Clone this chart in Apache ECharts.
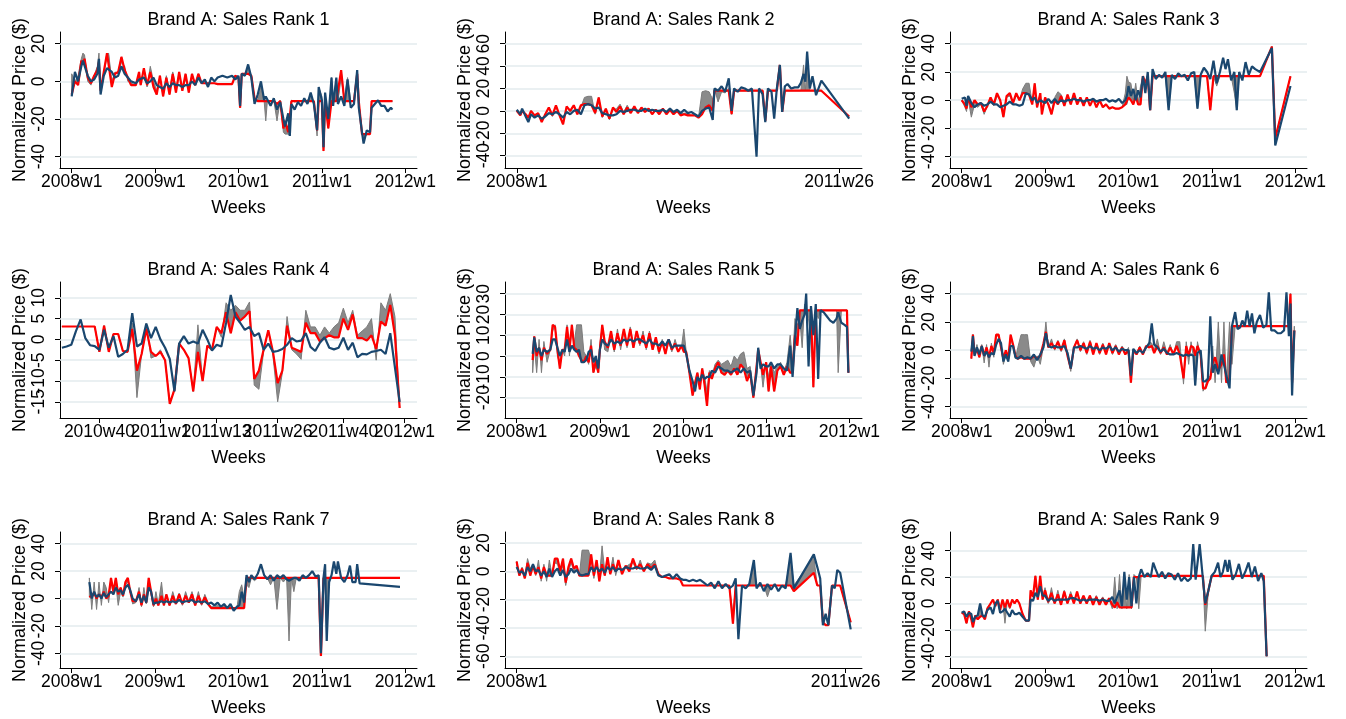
<!DOCTYPE html>
<html><head><meta charset="utf-8">
<script src="https://cdn.jsdelivr.net/npm/echarts@6/dist/echarts.min.js"></script>
<style>html,body{margin:0;padding:0;background:#fff}#c{width:1346px;height:719px}</style>
</head><body><div id="c"></div>
<script>
// ---------- tick labels ----------
const yearTicks = [0, 52, 104, 156, 208];
const yearLabels = ['2008w1', '2009w1', '2010w1', '2011w1', '2012w1'];
const shortTicks = [0, 181];
const shortLabels = ['2008w1', '2011w26'];
const rank4Ticks = [143, 156, 168, 181, 195, 208];
const rank4Labels = ['2010w40', '2011w1', '2011w13', '2011w26', '2011w40', '2012w1'];

const rank1YTicks = [-40, -20, 0, 20];
const rank2YTicks = [-40, -20, 0, 20, 40, 60];
const rank3YTicks = [-40, -20, 0, 20, 40];
const rank4YTicks = [-15, -10, -5, 0, 5, 10];
const rank5YTicks = [-20, -10, 0, 10, 20, 30];
const rank6YTicks = [-40, -20, 0, 20, 40];
const rank7YTicks = [-40, -20, 0, 20, 40];
const rank8YTicks = [-60, -40, -20, 0, 20];
const rank9YTicks = [-40, -20, 0, 20, 40];

// ---------- data (weeks counted from 2008w1, 52 per year) ----------
const rank1Weeks = [0,2,4,6,7,8,10,12,14,16, 17,18,20,22,23,25,27,29,31,33, 35,37,40,42,43,45,47,49,51,53, 55,57,59,61,63,65,67,69,71,73, 75,77,79,81,83,85,87,89,91,94, 97,100,102,104,105,106,108,110,112,114, 116,118,120,121,122,124,126,128,130,132, 133,135,136,137,139,141,143,145,147,149, 151,153,154,156,157,158,160,162,163,165, 166,168,170,172,174,176,178,179,181,182, 184,186,187,189,191,193,195,197,199,200];
const rank1Red = [-7,0,-2,11,9,12,2,-1,3,6, 10,-5,5,15,14,-3,4,5,13,6, 2,-2,-2,5,-2,7,-2,5,-3,-7, 3,-8,2,-7,4,-6,5,-5,4,-6, 4,-2,4,-1,-1,-1,-1,-1,-1.5,-1.5, -1.5,-1.5,3,2,-14,4,4,4,3,-9, -10.5,-10.5,-10.5,-10.5,-10.5,-10.5,-10.5,-12,-10.5,-25, -21,-27,-26,-10.5,-10.5,-10.5,-10.5,-10.5,-10.5,-10.5, -10.5,-26,-10.5,-10.5,-37,-10.5,-25,-10.5,-10.5,-10.5, -10.5,6,-10.5,-10.5,-10.5,-10.5,4,-10.5,-28,-28, -28,-28,-10.5,-10.5,-10.5,-10.5,-10.5,-10.5,-10.5,-10.5];
const rank1Blue = [-8,5,0,8,11,10,3,0,1,4, 12,-7,3,7,7,5,2,3,8,4, 2,0,-1,1,0,2,-1,0,2,-2, -3,-4,-1,-3,-1,-2,-2,-3,-2,-2, 0,-2,2,-1,1,-3,2,0,2,3, 2,3,1,3,-13,4,3,9,2,-12, -7,0,-10,-8,-9,-13,-9,-15,-11,-20, -24,-17,-29,-12,-15,-11,-13,-9,-12,-6, -12,-26,-3,-10,-35,-6,-20,2,-13,2, -12,-8,-13,1,-14,-12,6,-14,-27,-33, -26,-27,-14,-12,-10,-13,-13,-16,-14,-15];
const rank1Gray = [4,0,3,12,15,14,0,-2,3,8, 15,-6,4,13,15,0,5,4,10,8, 0,-1,-2,4,-1,6,-3,8,0,-5, 2,-7,3,-5,5,-3,3,-4,1,-3, 3,-1,4,-1,-1,-2,-1,-1,-1.5,-1.5, -1.5,-1.5,3,2,-14,4,4,8,3,-10, -10.5,-3,-10.5,-21,-10.5,-10.5,-10,-21,-10,-27, -28,-28,-29,-10,-11,-10.5,-10.5,-10.5,-10,-8, -10.5,-29,-3,-8,-36,-10,-24,2,-10.5,1, -10.5,2,-10.5,2,-10.5,-10.5,5,-10.5,-28,-31, -28,-28,-10.5,-10.5,-10.5,-10.5,-10.5,-10.5,-10.5,-10.5];

const rank2Weeks = [0,2,3,5,6.5,8,10,12,14,16, 18,20,22,24,26,28,30,32,34,36, 38,40,42,44,46,48,50,52,54,56, 58,60,62,64,66,68,70,72,74,76, 78,80,82,84,86,88,90,92,94,96, 98,100,102,104,106,108,110,111,113,115, 117,119,120.6,122,124,126,128,130,132,134.6, 136,138,139.5,141,143,144.5,146,147.7,149,150.5, 152,154,156,158,159.5,161,162,163,164.5,166, 168,171,186.6];
const rank2Red = [0,-4,0,-3,-6,0,-4,-2,-10,-3, 3,-4,5,-4,-12,4,0,5,-3,5, 6,6,5,-2,12,-5,2,-7,3,-1, 4,-3,3,-2,4,-2,3,-1,2,-3, 1,-3,2,-3,1,-3,0,-4,-3,-4, -4,-4,-6,-3,3,5,0,18,18,18, 18,18,-3,18,18,18,18,18,18,18, 18,18,-9,18,18,18,18,41,-1,18, 18,18,18,18,18,18,18,18,18,18, 18,18,-5];
const rank2Blue = [1,-3,2,-5,-10,-3,-6,-4,-7,-5, -2,-3,-1,-3,-6,-1,-3,0,1,-3, 5,6,5,2,3,-2,-3,-4,-4,-3, 0,-1,0,1,1,0,0,2,0,1, 0,0,1,-1,2,-1,1,-2,1,-2, -1,-3,-5,0,2,3,-8,20,18,22, 17,29,0,20,17,21,20,18,20,-41, 20,15,-10,20,17,-7,20,41,-1,22, 24,20,21,21,25,33,26,53,20,31, 14,27,-7];
const rank2Gray = [0,-4,0,-4,-7,0,-4,-3,-9,-3, 2,-5,4,-4,-10,3,-1,4,-2,3, 12,13,13,-3,8,-6,0,-8,1,2, 6,-1,5,-1,2,-1,2,-1,2,-2, 1,-2,1,-2,0,-2,1,-3,-2,-3, -4,-4,-6,17,18,17,10,20,8,17, 16,20,-3,18,18,18,18,18,18,18, 18,18,-9,18,18,18,18,41,-1,18, 18,18,18,18,18,41,18,40,18,18, 18,18,-5];

const rank3Weeks = [0,2,3,4,6,8,10,12,14,16, 18,20,22,24,26,28,30,32,34,36, 38,40,42,44,45.5,47,49,50,52,54, 56,58,60,62,64,66,68,70,72,74, 76,78,80,82,84,86,88,90,92,94, 96,98,100,102,103,104,105.5,107,108.5,110, 111.5,113,114.5,116,117.5,119,121,123,125,127, 129,131,133,135,137,139,141,143,145,147, 149,151,153,155,157,159,161,163,164.5,166, 168,170,171.5,173,175,177,179,181,183,186, 193.4,195.5,205];
const rank3Red = [0,-3,-6,2,-5,0,-3,-2,-8,-4, 2,-3,5,0,-12,3,5,-2,5,0, 5,5,4,-3,12,-5,5,-10,2,-3, -10,0,-3,3,-4,4,-3,5,-3,2, -4,2,-4,1,-5,0,-5,-3,-6,-5, -6,-6,-5,-3,-3,2,0,-3,3,-3, -3,17,12,17,-7,17,17,17,17,17, 17,17,17,17,17,17,17,17,17,17, 17,17,17,-7,17,17,17,17,17,17, 17,17,17,17,17,17,17,17,17,17, 38,-27,17];
const rank3Blue = [1,2,-4,3,-2,-5,-3,-2,-4,-3, -1,-3,-3,-5,-4,-3,-1,-3,-3,-4, -3,5,4,0,2,-2,0,-1,-2,1, -2,1,-2,0,-1,0,0,1,0,0, -1,0,0,1,-1,0,0,1,-1,0, -1,1,-2,0,3,10,3,8,0,7, 2,17,5,20,-7,22,15,18,16,20, -7,18,15,19,17,18,14,19,20,-6, 18,23,20,15,28,12,20,30,22,29, 14,20,-7,20,14,27,18,24,22,20, 37,-32,10];
const rank3Gray = [0,-5,-8,1,-12,-3,-5,-3,-10,-4, 1,-4,3,0,-8,2,3,-2,3,0, 8,12,12,-2,8,-5,3,-8,0,-2, -8,2,6,4,-3,3,-2,3,-2,2, -3,1,-3,0,-4,-1,-4,-3,-5,-5, -6,-6,-5,5,17,13,12,0,12,-2, 10,17,10,17,-7,17,17,17,17,17, -7,17,17,17,17,17,17,17,17,-6, 17,17,17,-7,17,10,17,17,17,17, 17,5,-7,17,17,17,17,17,17,17, 38,-27,17];

const rank4Weeks = [135,136,137,138,139,140,141,142, 143,144,145,146,147,148,149,150,151,152, 153,154,155,156,157,158,159,160,161,162, 163,164,165,166,167,168,169,170,171,172, 173,174,175,176,177,178,179,180,181,182, 183,184,185,186,187,188,189,190,191,192, 193,194,195,196,197,198,199,200,201,202, 203,204,205,206,207];
const rank4Red = [3.1,3.1,3.1,3.1,3.1,3.1,3.1,3.1, -3,3.3,-3,1.3,1.3,-2.8,-3,2.5,-7.5,-3.5, 2.5,-3,-4,-3,-5,-15.5,-12,-1,-2.5,-4.5, -12.5,-3,-10,-1.5,-2.5,3,1.5,6.5,1.5,6.5, 4.5,5.5,6.8,-9.5,-7.5,-2.5,2.2,-3,-10.5,-7.5, 3.3,-2,-2.5,-3,4,1.5,1.5,-0.5,0.3,1, 0.5,0.5,5,2.3,6,0.3,0.3,-0.3,1,-2.3, 4.3,3.3,8.3,1,-16.5];
const rank4Blue = [-2,-1.7,-1.3,2,4.8,0.3,-1.4,-1.6, -2.5,2.3,-2,0.8,-4.2,-3.5,-2.5,6.3,-1.7,-1, 3.8,0.3,3,0,-2,-4.7,-12.5,-1,0.8,-1, -0.5,-1,2.3,0,-2.7,-1.3,-1.7,4,10.7,5.5, 4,2.3,3,0.8,1.5,-2.5,-1,-3,-2.8,-2.3, -1.3,0.3,-0.5,-0.3,1.5,-1.8,-2.8,-0.8,0.5,-2, -2.4,-2,0.4,-2.5,-0.8,-4.3,-3.5,-3.6,-3,-2.8, -2.5,-3.5,1.5,null,-15];
const rank4Gray = [3.1,3.1,3.1,3.1,3.1,3.1,3.1,3.1, -3,3.3,-3,1.3,1.3,-2.8,-3,3.9,-14,-3.5, 3.8,-4.5,-4,-2.5,-5,-15.5,-12,-1,-2.5,-4.5, -12.5,3.5,-10,-1.5,-2.5,3,0.5,8.8,7,8.2, 7,7,9,-11,-12,-3,2.2,-4,-15,-8, 5.5,-2.5,-3.5,-4.8,7,3,3,1,3,1.5, 3,4,7.5,4,7,1,2,3,5,-5, 8.8,7,11,5.5,-16];

const rank5Weeks = [10,11,12.5,14,15.5,17,19,21,22.5,24, 25.5,27,28.5,30,31.5,33,34.5,36,37.5,39, 40.5,42,43.5,45,46.5,48,49.5,51,52,53.5, 55,57,59,61,63,65,67,69,71,73, 75,77,79,81,83,85,87,89,91,93, 95,97,99,101,103,104.5,106,108,110,111.5, 113,114.5,116,117.5,119,120.5,122,124,126,128, 130,132,134,136,138,140,142,144,146,148, 150,151,152.5,154,156,157.5,159,161,163,165, 167,169,171,172.5,174,175.5,177,178.5,180,181, 182.5,184,185.5,187,188.5,190,192,194,196,198, 200,201,203,205,206.5,207.4];
const rank5Red = [-2,9.5,0,4,-2,4,1,3,15,14, 3,-6,3,3,14,3,15,4,3,0, -2,-3,0,-3,5,-8,-2,-8,3,15, 7,4,12,3,11,5,13,5,13,4, 12,6,10,4,11,3,9,2,7,1, 8,3,6,2,5,2,2,-8,-19,-13, -8,-16,-6,-14,-24,-8,-11,-6,-3,-8, -9,-7,-9,-6,-9,-4,-6,-12,-8,-20, -5,3,-3,-9,-3,-17,-5,-17,-7,-5, -9,-5,-8,-8,10,5,22,22,22,22, 22,22,-15,22,22,22,22,22,22,22, 22,22,22,22,22,-8];
const rank5Blue = [1,9,2,4,0,3,2,3,8,8, 4,0,3,2,8,2,5,3,2,3, -3,-3,-2,2,3,-3,0,-6,3,8, 6,5,8,6,7,6,8,7,8,7, 8,8,7,6,8,6,6,5,7,5, 8,4,5,5,5,5,1,-7,-12,-17, -10,-12,-9,-11,-10,-10,-7,-8,-5,-6, -7,-7,-8,-7,-6,-8,-6,-8,-7,-19, -8,4,-6,-4,-5,-5,-3,-6,-4,-4, -6,-7,5,-10,8,23,13,17,20,30, -5,24,10,25,-11,22,21,19,17,16, 18,21,16,15,14,-8];
const rank5Gray = [-8,5,-8,8,-8,7,-3,3,12,15, 0,-4,3,0,15,0,15,6,15,15, 15,2,0,-4,8,-8,-5,-8,6,14, 3,2,10,2,13,3,12,4,14,5, 11,5,12,3,12,4,8,1,8,2, 7,2,8,3,4,13,2,-8,-16,-13, -9,-14,-6,-10,-17,-7,-10,-4,-2,-4, -3,-2,-5,0,-2,1,2,-6,-5,-20, -6,3,-4,-15,-3,-10,-3,-8,-5,-3, -8,-3,10,-3,18,15,18,4,25,22, 18,8,-10,22,18,22,22,22,22,22, 22,-8,22,22,22,-8];

const rank6Weeks = [6,7,8,9.5,11,12.5,14,15.5,17,18.5, 20,21.5,23,24.5,26,27.5,29,30.5,32,33.5, 35,37,39,41,43,45,47,49,51,52.5, 54,56,58,60,62,64,66,68,70,72, 74,76,78,80,82,84,86,88,90,92, 94,96,98,100,102,104,105.5,107,109,111, 113,115,117,118.5,120,122,124,126,128,130, 132,134,136,138.3,140,141.5,143,144.5,145.6,147, 149,150.5,152,153.5,155,156.5,158,160,162,163.5, 165,167,168.5,170.5,172,173.5,175,176.5,178,179.5, 181,182.5,184,186,188,190,191.5,193,195,197, 199,201,202.5,204,205,206,207.4];
const rank6Red = [-6,11,-3,1,-5,3,-4,2,-5,3, -2,11,11,2,-6,0,-6,11,4,-4, -6,-5,-6,-6,-6,-4,-6,-4,5,13, 2,5,1,6,0,7,-4,-13,2,7, 0,5,-2,6,-3,5,-2,4,-3,5, -2,3,-3,2,-3,0,-23,0,-3,2, -3,3,2,3,-2,3,-2,2,-3,2, -3,3,-3,-20,3,-4,3,2,-4,3, -3,-27,-27,-22,-20,-9,-5,-14,-10,-3, -23,-20,17,17,17,17,17,17,17,17, 17,17,17,17,17,17,17,17,17,17, 17,17,17,17,40,-23,14];
const rank6Blue = [-1,10,-4,2,-3,3,-4,-1,-5,-2, -3,4,8,5,-8,-3,-8,3,3,-5, -6,-4,-6,-5,-6,-3,-7,-3,2,12, 3,2,3,2,2,3,-2,-13,2,2, 3,2,1,3,1,2,0,2,1,3, 0,2,-1,1,0,0,-18,1,-2,0, -2,2,5,19,4,2,-1,1,-2,-3, -3,-2,-3,-4,-3,-4,-3,-4,-25,-2, 0,-22,-22,-20,24,-16,-10,-17,-3,-10, -18,-27,17,27,15,16,21,17,28,17, 26,12,20,25,16,18,41,14,14,12, 12,14,41,10,33,-32,14];
const rank6Gray = [-3,11,-3,4,-5,4,-9,4,-12,5, -5,9,11,3,-10,-3,-8,9,2,-6, 2,11,11,11,-8,-12,-4,-10,3,20, 2,8,0,7,-1,8,-3,-15,2,8, -1,6,-3,7,-1,5,-3,5,-2,4, -3,4,-2,3,-2,2,-21,1,-2,3, -3,2,6,5,0,8,-3,6,-2,4, -3,6,6,-24,6,-10,6,-5,-25,6, -5,-29,-25,-20,-18,3,-23,20,-23,20, -23,20,-10,17,17,17,17,17,17,17, 17,17,17,17,17,17,17,17,17,17, 17,17,17,17,40,-23,17];

const rank7Weeks = [11,12.5,14,15.5,17,18.5,20,21.5,23,24.5, 26,27.5,29,30.5,32,33.5,35,36.5,38,40, 42,43.5,45,46.5,48,49.5,51,52.5,54,56, 57.5,59,61,63,65,67,69,71,73,75, 77,79,81,83,85,87,89,91,93,95, 97,99,101,103,104.5,106,107.5,109,110.5,112, 114,116,118,120,122,124,126,128,130,132, 134,135.5,137,138.5,140,142,144,146,148,150, 152,154,155.4,157,158,159,160.5,162,163.5,165, 166,168,170,172,173.5,175,177,178,179.5,204.7];
const rank7Red = [1,2,4,0,3,1,5,0,2,15, 5,15,3,8,2,12,15,5,-2,-2, 5,-5,3,-3,15,5,-5,0,-5,2, -5,3,-5,2,-4,3,-4,2,-3,3, -5,2,-4,1,-4,-7,-7,-7,-7,-7, -7,-7,-7,-7,-7,-7,-7,15,15,15, 15,15,15,15,15,15,15,15,15,15, 15,15,15,15,15,15,15,15,15,15, 15,15,-42,15,15,15,15,15,15,15, 15,15,15,15,15,15,15,15,15,15];
const rank7Blue = [12,0,5,1,3,0,4,1,3,5, 3,8,5,6,3,8,10,6,0,-2, 3,-3,2,-3,8,5,-4,-3,-3,-2, -3,-2,-3,-2,-3,-1,-3,-2,-2,-1, -3,-2,-3,-2,-4,-3,-5,-3,-6,-4, -7,-4,-9,-6,-5,5,-3,17,12,17, 14,18,25,17,14,17,13,17,15,17, 14,13,14,15,15,13,17,15,17,20, 16,17,-40,15,25,-31,12,17,27,18, 27,15,12,17,24,12,12,25,11,8.5];
const rank7Gray = [15,-8,12,-8,12,-5,12,8,-3,12, 3,10,-5,5,1,10,12,5,-4,-3, 8,-6,8,-4,12,3,-6,5,-4,12, -5,3,-5,5,-3,4,-5,5,-2,5, -4,5,-5,3,-3,-6,-6,-5,-7,-5, -7,-6,-8,-7,5,10,0,10,8,15, 13,15,15,15,15,10,15,-8,15,12, 15,-31,15,5,15,15,15,15,15,15, 15,15,-40,15,15,-31,15,15,15,15, 15,15,15,15,15,15,15,15,15,15];

const rank8Weeks = [0,1.5,3,4.5,6,7.5,9,10.5,12,13.5, 15,16.5,18,19.5,21,22.5,24,25.5,27,28.5, 30,31.5,33,34.5,36,38,39.5,41,42.5,44, 45.5,47,48.5,50,51.5,53,54.5,56,58,60, 62,64,66,68,70,72,74,76,78,80, 82,84,86,88,90,91.5,93,95,97,99, 101,103,105,107,109,111,113,115,117,119, 120.5,122,124,126,128,130.5,132,134,136,138, 140,142,144,146,148,150.7,152.5,163.5,165.4,167, 168.5,170,171.5,173.5,175,176.4,178,183.8];
const rank8Red = [7,-3,2,-5,6,-3,4,-2,3,-5, 3,-3,-3,-3,9,9,0,9,-8,3, 9,2,4,-3,-3,-3,-3,12,-3,8, -7,5,-3,10,-2,5,0,8,-2,4, 0,9,2,5,0,5,2,5,-2,-4, -4,-5,-5,-5,-6,-10,-10,-10,-10,-10, -10,-10,-10,-10,-10,-10,-10,-10,-10,-37, -10,-10,-10,-10,-10,-10,-10,-10,-10,-10, -10,-10,-10,-10,-10,-10,-14,-1,-10,-10, -36,-38,-38,-10,-10,-10,-10,-36];
const rank8Blue = [3,-1,0,-3,3,0,5,0,1,-3, 0,-4,2,-4,0,2,-3,1,-4,-2, 2,-1,1,-2,-3,-2,-2,3,0,3, 0,2,-1,3,1,3,0,2,1,3, 2,2,3,2,2,3,1,4,-3,-4, -3,-2,-5,-2,-5,-6,-6,-7,-6,-7, -6,-8,-10,-8,-12,-7,-12,-9,-12,-10, -5,-48,-10,-12,-9,8,-12,-8,-14,-9, -13,-9,-14,-10,-12,13,-12,12,3,-5, -38,-30,-38,-10,-12,1,-1,-41];
const rank8Gray = [5,-3,3,-4,9,2,5,-3,8,-7, 5,-7,8,-3,6,5,-2,4,-10,0, 6,0,3,-3,15,15,15,8,-5,6, -5,18,0,6,0,10,-3,5,1,3, 5,6,1,8,0,6,5,8,-2,-4, -4,-5,-5,-5,-6,-10,-10,-10,-10,-10, -10,-10,-10,-10,-10,-10,-10,-10,-10,-30, -10,-10,-10,-10,-10,5,-10,-10,-10,-18, -10,-10,-10,-10,-10,10,-10,10,-10,-10, -36,-38,-38,-10,-10,-10,-10,-36];

const rank9Weeks = [0,1.5,3,4.5,6,7,8.5,10,11.5,13, 14.5,16,18,19.5,21,22.5,24,25.5,27,28.5, 30,31.5,33,34.5,36,38,40,42,43,44.5, 46,47.5,49,50.5,52,54,56,58,60,62, 64,66,68,70,72,74,76,78,80,82, 84,86,88,90,92,94,95.5,97,98.5,100, 101.5,103,104.5,106,107.5,109,110.5,112,114,116, 118,119.5,121,123,125,127,129,131,133,135, 137,139,141,143,144.5,146,148.5,150.5,152,154, 156,158,160,161.5,163,164.5,166,167,169,171, 173,175,177,179,181,183,185,187,188.5,190.3];
const rank9Red = [-7,-8,-15,-6,-12,-18,-9,-12,-10,-9, -12,-4,0,3,-2,3,-5,3,-3,3, -3,3,0,3,0,-8,-13,-13,10,5, 21,3,21,3,10,1,8,0,7,-1, 9,0,7,0,9,0,6,0,6,-1, 5,-1,4,-1,4,-1,-3,1,-3,-3, -3,-3,-3,-3,20,20,20,21,21,21, 21,21,21,21,21,21,21,21,21,21, 21,21,21,21,21,21,21,21,-1,10, 21,21,21,21,21,21,21,21,21,21, 21,21,21,21,21,21,21,21,21,-40];
const rank9Blue = [-7,-6,-10,-7,-8,-14,-10,-9,0,-9, -10,-5,-3,-8,0,2,-7,-6,-4,-7, -10,-5,-8,-8,-7,-10,-13,-13,3,2, 8,5,13,6,6,2,4,2,3,3, 3,3,4,4,3,2,3,2,3,3, 3,2,3,2,2,5,0,5,10,-2, 24,3,20,-2,20,0,20,26,20,23, 20,31,26,20,24,19,23,22,18,23, 17,20,17,19,45,18,45,19,0,10, 21,24,31,20,24,33,24,33,18,22, 30,19,24,31,20,28,17,23,17,-40];
const rank9Gray = [-7,-8,-15,-6,-10,-17,-9,-12,-3,-10, -12,-3,0,2,0,3,-4,2,-15,2, -4,2,0,2,0,-8,-13,-13,8,6, 15,5,18,4,12,0,12,0,10,0, 10,1,9,2,8,0,5,1,6,0, 6,0,5,0,3,-4,20,-4,22,-4, 22,-4,22,-4,22,20,-4,21,21,21, 21,21,21,21,21,21,21,21,21,21, 21,21,21,21,21,21,21,21,-21,10, 21,21,21,21,21,21,21,21,21,21, 21,21,21,21,21,21,21,21,21,-40];

// ---------- layout ----------
const FONT = '"Liberation Sans", Arial, sans-serif';
const panels = [
  {title:'Brand A: Sales Rank 1', w:rank1Weeks, r:rank1Red, b:rank1Blue, g:rank1Gray, xt:yearTicks, xl:yearLabels, yt:rank1YTicks, x:[-7.3,215.3], y:[-46,26.2]},
  {title:'Brand A: Sales Rank 2', w:rank2Weeks, r:rank2Red, b:rank2Blue, g:rank2Gray, xt:shortTicks, xl:shortLabels, yt:rank2YTicks, x:[-6.6,193.8], y:[-51,70.4]},
  {title:'Brand A: Sales Rank 3', w:rank3Weeks, r:rank3Red, b:rank3Blue, g:rank3Gray, xt:yearTicks, xl:yearLabels, yt:rank3YTicks, x:[-7.3,215.3], y:[-48,48.3]},
  {title:'Brand A: Sales Rank 4', w:rank4Weeks, r:rank4Red, b:rank4Blue, g:rank4Gray, xt:rank4Ticks, xl:rank4Labels, yt:rank4YTicks, x:[134.6,210.7], y:[-18.9,13.8]},
  {title:'Brand A: Sales Rank 5', w:rank5Weeks, r:rank5Red, b:rank5Blue, g:rank5Gray, xt:yearTicks, xl:yearLabels, yt:rank5YTicks, x:[-7.3,215.9], y:[-29.8,35.6]},
  {title:'Brand A: Sales Rank 6', w:rank6Weeks, r:rank6Red, b:rank6Blue, g:rank6Gray, xt:yearTicks, xl:yearLabels, yt:rank6YTicks, x:[-7.3,215.3], y:[-48,48.3]},
  {title:'Brand A: Sales Rank 7', w:rank7Weeks, r:rank7Red, b:rank7Blue, g:rank7Gray, xt:yearTicks, xl:yearLabels, yt:rank7YTicks, x:[-7.3,215.3], y:[-50.7,48.5]},
  {title:'Brand A: Sales Rank 8', w:rank8Weeks, r:rank8Red, b:rank8Blue, g:rank8Gray, xt:shortTicks, xl:shortLabels, yt:rank8YTicks, x:[-6.4,190], y:[-68.3,27.8]},
  {title:'Brand A: Sales Rank 9', w:rank9Weeks, r:rank9Red, b:rank9Blue, g:rank9Gray, xt:yearTicks, xl:yearLabels, yt:rank9YTicks, x:[-7.3,215.5], y:[-48.9,54.2]}
];
const colLeft = [60, 505, 950];
const PW = 357, PH = 136;

const grid = [], title = [], xAxis = [], yAxis = [], series = [];
const axisCol = '#000';
const labelFont = {fontFamily: FONT, fontSize: 17.5, color: '#000', hideOverlap: false, showMinLabel: true, showMaxLabel: true};
const nameFont = {fontFamily: FONT, fontSize: 18, color: '#000'};
// ticks are split over two stacked axes (even / odd positions) so that ECharts keeps every label,
// even where neighbouring labels overlap as they do in the original
const split = (arr, parity) => arr.filter((_, k) => k % 2 === parity);

panels.forEach((p, i) => {
  const row = Math.floor(i / 3), col = i % 3;
  grid.push({left: colLeft[col], top: 32 + 250 * row, width: PW, height: PH, containLabel: false, outerBoundsMode: 'none'});
  title.push({text: p.title, left: colLeft[col] + PW / 2, top: 250 * row + 11, textAlign: 'center', padding: 0,
    textStyle: {fontFamily: FONT, fontSize: 18, fontWeight: 'normal', color: '#000'}});
  const labelMap = {};
  p.xt.forEach((v, k) => { labelMap[v] = p.xl[k]; });
  const xIdx = xAxis.length, yIdx = yAxis.length;
  [0, 1].forEach(par => {
    const xv = split(p.xt, par), yv = split(p.yt, par);
    xAxis.push({type: 'value', gridIndex: i, position: 'bottom', offset: 0, min: p.x[0], max: p.x[1],
      name: par === 0 ? 'Weeks' : '', nameLocation: 'middle', nameGap: 31, nameTextStyle: nameFont,
      axisLine: {show: par === 0, onZero: false, lineStyle: {color: axisCol, width: 1}},
      axisTick: {show: xv.length > 0, length: 5, customValues: xv, lineStyle: {color: axisCol, width: 1}},
      axisLabel: Object.assign({show: xv.length > 0, customValues: xv, formatter: v => labelMap[v] || '', margin: 5}, labelFont),
      splitLine: {show: false}});
    yAxis.push({type: 'value', gridIndex: i, position: 'left', offset: 0, min: p.y[0], max: p.y[1],
      name: par === 0 ? 'Normalized Price ($)' : '', nameLocation: 'middle', nameGap: 31, nameRotate: 90, nameTextStyle: nameFont,
      axisLine: {show: par === 0, onZero: false, lineStyle: {color: axisCol, width: 1}},
      axisTick: {show: yv.length > 0, length: 5, customValues: yv, lineStyle: {color: axisCol, width: 1}},
      axisLabel: Object.assign({show: yv.length > 0, customValues: yv, rotate: 90, margin: 12}, labelFont),
      splitLine: {show: false}});
  });
  // gray band between red line and gray line
  series.push({type: 'custom', xAxisIndex: xIdx, yAxisIndex: yIdx, z: 3, silent: true,
    encode: {x: 0, y: [1, 2]},
    data: p.w.map((t, k) => [t, p.r[k], p.g[k]]),
    renderItem: (params, api) => {
      if (params.dataIndex !== 0) return null;
      const pts = [];
      for (let k = 0; k < p.w.length; k++) if (p.r[k] != null) pts.push(api.coord([p.w[k], p.r[k]]));
      for (let k = p.w.length - 1; k >= 0; k--) if (p.g[k] != null) pts.push(api.coord([p.w[k], p.g[k]]));
      return {type: 'polygon', shape: {points: pts}, style: {fill: '#8a8a8a', stroke: '#7c7c7c', lineWidth: 1}};
    }});
  series.push({type: 'line', xAxisIndex: xIdx, yAxisIndex: yIdx, z: 4, symbol: 'none', silent: true,
    data: p.w.map((t, k) => [t, p.r[k]]), connectNulls: true,
    lineStyle: {color: '#ff0000', width: 2.2}, itemStyle: {color: '#ff0000'},
    markLine: {silent: true, z: 1, symbol: ['none', 'none'], label: {show: false}, animation: false,
      lineStyle: {color: '#e3ebee', width: 1.6, type: 'solid'},
      emphasis: {disabled: true},
      data: p.yt.map(v => ({yAxis: v}))}});
  series.push({type: 'line', xAxisIndex: xIdx, yAxisIndex: yIdx, z: 5, symbol: 'none', silent: true,
    data: p.w.map((t, k) => [t, p.b[k]]), connectNulls: true,
    lineStyle: {color: '#1a476f', width: 2.2}, itemStyle: {color: '#1a476f'}});
});

const chart = echarts.init(document.getElementById('c'), null, {renderer: 'canvas'});
chart.setOption({backgroundColor: '#fff', animation: false, tooltip: {show: false},
  grid, title, xAxis, yAxis, series});
</script>
</body></html>
